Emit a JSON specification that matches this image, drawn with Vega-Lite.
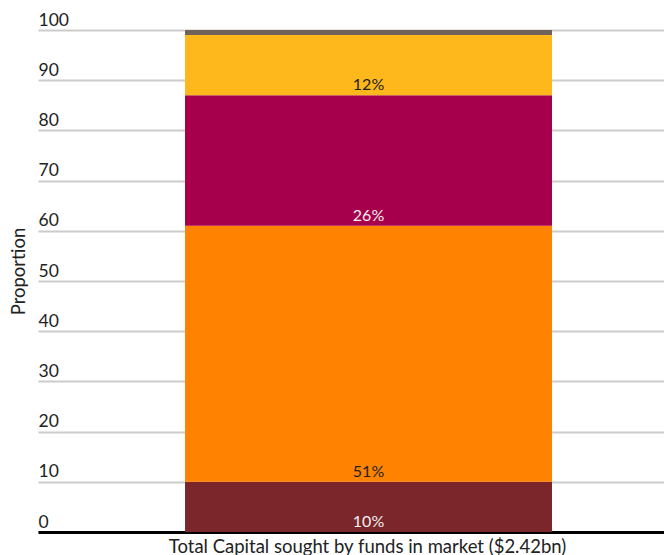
{
  "$schema": "https://vega.github.io/schema/vega-lite/v6.json",
  "width": 626,
  "height": 502,
  "autosize": {"type": "none"},
  "padding": {"left": 38, "top": 30, "right": 0, "bottom": 23},
  "config": {"font": "Lato", "view": {"stroke": null}},
  "data": {"values": [
    {"bar": "Total", "segment": "S1", "value": 10, "order": 1, "label": "10%"},
    {"bar": "Total", "segment": "S2", "value": 51, "order": 2, "label": "51%"},
    {"bar": "Total", "segment": "S3", "value": 26, "order": 3, "label": "26%"},
    {"bar": "Total", "segment": "S4", "value": 12, "order": 4, "label": "12%"},
    {"bar": "Total", "segment": "S5", "value": 1, "order": 5, "label": ""}
  ]},
  "transform": [
    {"stack": "value", "groupby": ["bar"], "as": ["y0", "y1"], "sort": [{"field": "order"}]}
  ],
  "encoding": {
    "x": {
      "field": "bar", "type": "nominal",
      "scale": {"paddingInner": 0, "paddingOuter": 0.3529, "align": 0.5676},
      "axis": {
        "labels": false, "ticks": false, "domain": true, "domainColor": "#000", "domainWidth": 3,
        "title": "Total Capital sought by funds in market ($2.42bn)",
        "titleFontSize": 18.5, "titleFontWeight": "normal", "titleColor": "#222",
        "titleX": 329, "titleY": 14, "titleBaseline": "middle", "titleAlign": "center"
      }
    }
  },
  "layer": [
    {
      "mark": {"type": "bar"},
      "encoding": {
        "y": {
          "field": "y0", "type": "quantitative",
          "scale": {"domain": [0, 100]},
          "axis": {
            "values": [0, 10, 20, 30, 40, 50, 60, 70, 80, 90, 100],
            "grid": true, "gridColor": "#cccccc", "gridWidth": 2,
            "domain": false, "ticks": false,
            "labelAlign": "left", "labelBaseline": "alphabetic", "labelPadding": 0, "labelOffset": -5,
            "labelFontSize": 17.5, "labelColor": "#222",
            "title": "Proportion", "titleFontSize": 18.5, "titleFontWeight": "normal", "titleColor": "#222",
            "titleX": -20, "titleY": 241, "titleBaseline": "middle", "titleAngle": -90
          }
        },
        "y2": {"field": "y1"},
        "color": {
          "field": "segment", "type": "nominal",
          "scale": {"domain": ["S1", "S2", "S3", "S4", "S5"], "range": ["#7b262b", "#ff8200", "#a6004c", "#feb81c", "#6e625b"]},
          "legend": null
        }
      }
    },
    {
      "mark": {"type": "text", "baseline": "alphabetic", "dy": -5, "fontSize": 16},
      "encoding": {
        "y": {"field": "y0", "type": "quantitative"},
        "text": {"field": "label"},
        "color": {
          "condition": {"test": "datum.segment === 'S1' || datum.segment === 'S3'", "value": "#f0f0f0"},
          "value": "#222222"
        }
      }
    }
  ]
}
